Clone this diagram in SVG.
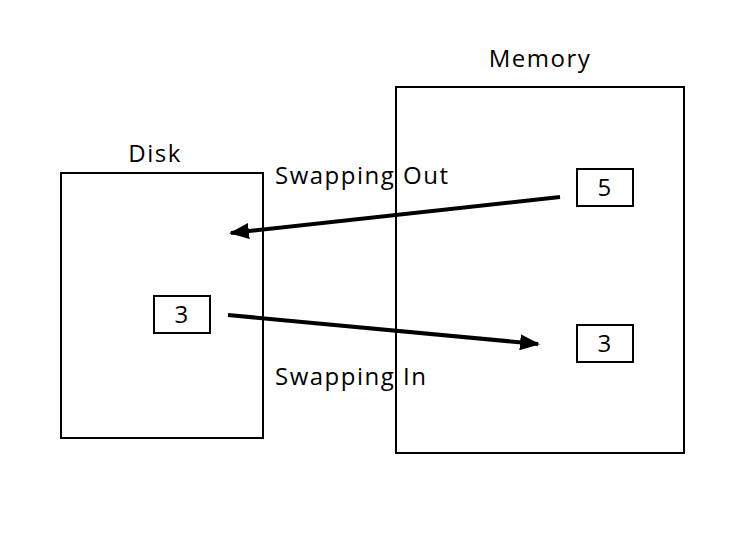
<svg xmlns="http://www.w3.org/2000/svg" width="730" height="545" viewBox="0 0 730 545">
<defs>
<style>
.box{fill:none;stroke:#000;stroke-width:2}
.t{font-family:"Open Sans","Noto Sans",sans-serif;font-size:24px;letter-spacing:1.5px;fill:#000}
.c{text-anchor:middle}
.ar{stroke:#000;stroke-width:4;fill:none;marker-end:url(#ah)}
</style>
<marker id="ah" markerWidth="5" markerHeight="4" refX="4.5" refY="2" orient="auto" markerUnits="strokeWidth">
<path d="M0,0 L5,2 L0,4 Z" fill="#000"/>
</marker>
</defs>
<rect width="730" height="545" fill="#fff"/>
<g id="disk">
<rect class="box" x="61" y="173" width="202" height="265"/>
<text class="t c" x="155" y="162">Disk</text>
</g>
<g id="memory">
<rect class="box" x="396" y="87" width="288" height="366"/>
<text class="t c" x="540" y="67">Memory</text>
</g>
<g id="mem5">
<rect class="box" x="577" y="169" width="56" height="37"/>
<text class="t c" x="605" y="196">5</text>
</g>
<g id="mem3">
<rect class="box" x="577" y="325" width="56" height="37"/>
<text class="t c" x="605" y="352">3</text>
</g>
<g id="disk3">
<rect class="box" x="154" y="296" width="56" height="37"/>
<text class="t c" x="182" y="323">3</text>
</g>
<g id="connectors">
<line class="ar" x1="560" y1="197" x2="231" y2="233"/>
<line class="ar" x1="228" y1="315" x2="538" y2="344"/>
<text class="t" x="275" y="184">Swapping Out</text>
<text class="t" x="275" y="385">Swapping In</text>
</g>
</svg>
